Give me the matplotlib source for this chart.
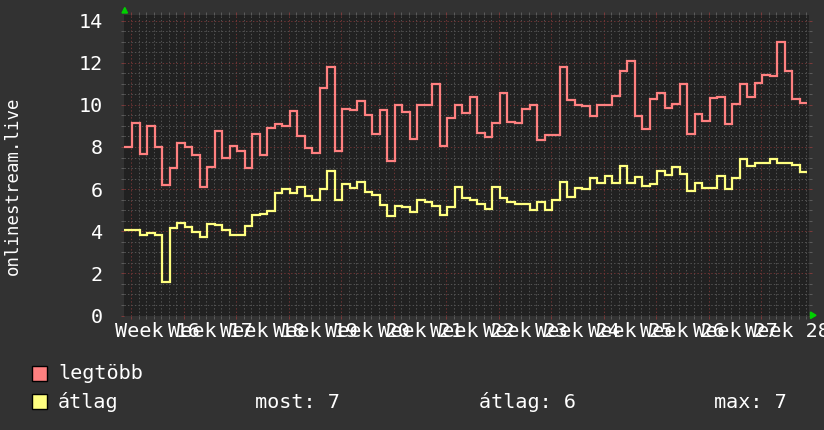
import matplotlib
matplotlib.use("Agg")
import matplotlib.pyplot as plt
import numpy as np
from matplotlib.patches import Rectangle, Polygon
from matplotlib.ticker import FixedLocator

# ---- data (daily steps) ----
legtobb = [8.0, 9.14, 7.68, 9.0, 8.0, 6.18, 6.98, 8.17, 7.98, 7.61,
           6.08, 7.05, 8.78, 7.46, 8.03, 7.83, 6.98, 8.6, 7.6, 8.88,
           9.08, 8.99, 9.69, 8.51, 7.93, 7.7, 10.79, 11.78, 7.83, 9.82,
           9.74, 10.16, 9.52, 8.6, 9.74, 7.33, 9.99, 9.66, 8.39, 9.99,
           9.99, 10.97, 8.03, 9.37, 9.99, 9.59, 10.37, 8.66, 8.46, 9.14,
           10.54, 9.18, 9.14, 9.78, 9.99, 8.31, 8.57, 8.57, 11.79, 10.21,
           9.99, 9.94, 9.48, 9.99, 9.99, 10.4, 11.6, 12.08, 9.48, 8.84,
           10.28, 10.54, 9.85, 10.04, 10.97, 8.61, 9.55, 9.23, 10.32, 10.35,
           9.07, 10.04, 10.97, 10.37, 11.02, 11.4, 11.35, 12.98, 11.6, 10.28,
           10.07]
atlag = [4.04, 4.06, 3.84, 3.94, 3.84, 1.6, 4.15, 4.37, 4.2, 3.98,
         3.71, 4.36, 4.28, 4.08, 3.84, 3.84, 4.24, 4.76, 4.82, 4.95,
         5.8, 6.02, 5.8, 6.12, 5.65, 5.5, 6.0, 6.84, 5.47, 6.26,
         6.05, 6.34, 5.84, 5.72, 5.24, 4.72, 5.2, 5.15, 4.91, 5.48,
         5.39, 5.21, 4.77, 5.15, 6.1, 5.59, 5.48, 5.28, 5.07, 6.08,
         5.58, 5.39, 5.28, 5.28, 5.02, 5.39, 5.0, 5.48, 6.34, 5.62,
         6.05, 5.99, 6.53, 6.29, 6.62, 6.29, 7.08, 6.29, 6.57, 6.13,
         6.22, 6.86, 6.67, 7.05, 6.7, 5.91, 6.29, 6.03, 6.03, 6.62,
         5.99, 6.51, 7.43, 7.08, 7.25, 7.25, 7.43, 7.25, 7.25, 7.14,
         6.81]
week_labels = ["Week 16", "Week 17", "Week 18", "Week 19", "Week 20", "Week 21",
               "Week 22", "Week 23", "Week 24", "Week 25", "Week 26", "Week 27",
               "Week 28"]
y_ticks = [0, 2, 4, 6, 8, 10, 12, 14]
series_names = ["legtöbb", "átlag"]
stat_texts = ["most: 7", "átlag: 6", "max: 7"]

RED = "#ff8080"
YEL = "#ffff80"
BG = "#323232"
PLOT_BG = "#212121"
MONO = "DejaVu Sans Mono"

W, H = 824, 430
fig = plt.figure(figsize=(W / 100, H / 100), dpi=100, facecolor=BG)
plt.rcParams["lines.scale_dashes"] = False

x0, x1 = 124.5, 808.5
ytop, ybot = 14.7, 315.5
ax = fig.add_axes([x0 / W, 1 - ybot / H, (x1 - x0) / W, (ybot - ytop) / H])
ax.set_facecolor(PLOT_BG)

n = len(legtobb)
edges = np.arange(n + 1)
ax.set_xlim(0, 91.2)
ax.set_ylim(0, 14.28)

# grid
major_x = np.arange(0.9, 91.2, 7)
minor_x = np.array([v for v in np.arange(0.9, 91.2, 1) if min(abs(v - major_x)) > 0.01])
ax.xaxis.set_major_locator(FixedLocator(major_x))
ax.xaxis.set_minor_locator(FixedLocator(minor_x))
ax.yaxis.set_major_locator(FixedLocator(y_ticks))
ax.yaxis.set_minor_locator(FixedLocator(np.arange(0.5, 14.3, 0.5)))
ax.grid(which="minor", color="#525252", lw=0.72, ls=(0, (1.0, 1.5)))
ax.grid(which="major", color="#6e3434", lw=0.72, ls=(0, (1.0, 1.5)))
ax.set_axisbelow(True)

ax.tick_params(axis="both", which="both", direction="out", length=2.5, width=0.72,
               color="#5a5a5a", top=True, right=True)
ax.tick_params(axis="x", which="major", color="#7a3a3a", labelbottom=False)
ax.tick_params(axis="y", which="major", color="#7a3a3a", labelcolor="white",
               labelsize=14.5, pad=13)
for lab in ax.get_yticklabels():
    lab.set_fontfamily(MONO)
ax.set_yticklabels([str(v) for v in y_ticks], fontfamily=MONO)
for s in ax.spines.values():
    s.set_visible(False)

ax.stairs(legtobb, edges, baseline=None, color=RED, lw=1.6)
ax.stairs(atlag, edges, baseline=None, color=YEL, lw=1.6)

# week labels
label_pos = major_x + 3.5
for xp, t in zip(label_pos, week_labels):
    ax.text(xp, -0.022, t, transform=ax.get_xaxis_transform(), ha="center", va="top",
            color="white", fontsize=14.5, fontfamily=MONO, clip_on=False)

# y label
fig.text(13 / W, 1 - 186 / H, "onlinestream.live", rotation=90, ha="center",
         va="center", color="white", fontsize=12.5, fontfamily=MONO)

# arrows
def px(x, y):
    return (x / W, 1 - y / H)

fig.add_artist(Polygon([px(122.0, 13.0), px(127.5, 13.0), px(124.8, 7.5)], closed=True,
                       transform=fig.transFigure, color="#00d000"))
fig.add_artist(Polygon([px(810.5, 312.0), px(810.5, 318.5), px(816.0, 315.3)], closed=True,
                       transform=fig.transFigure, color="#00d000"))

# legend
for (ytop_r, col, name, base) in [(366, RED, series_names[0], 379), (394, YEL, series_names[1], 408)]:
    fig.add_artist(Rectangle(px(32, ytop_r + 15), 15 / W, 15 / H, transform=fig.transFigure,
                             facecolor=col, edgecolor="black", lw=1))
    fig.text(58 / W, 1 - base / H, name, ha="left", va="baseline", color="white",
             fontsize=14.5, fontfamily=MONO)
for xs, t in zip([255, 479, 714], stat_texts):
    fig.text(xs / W, 1 - 408 / H, t, ha="left", va="baseline", color="white",
             fontsize=14.5, fontfamily=MONO)

fig.savefig("out.png", dpi=100, facecolor=BG)
